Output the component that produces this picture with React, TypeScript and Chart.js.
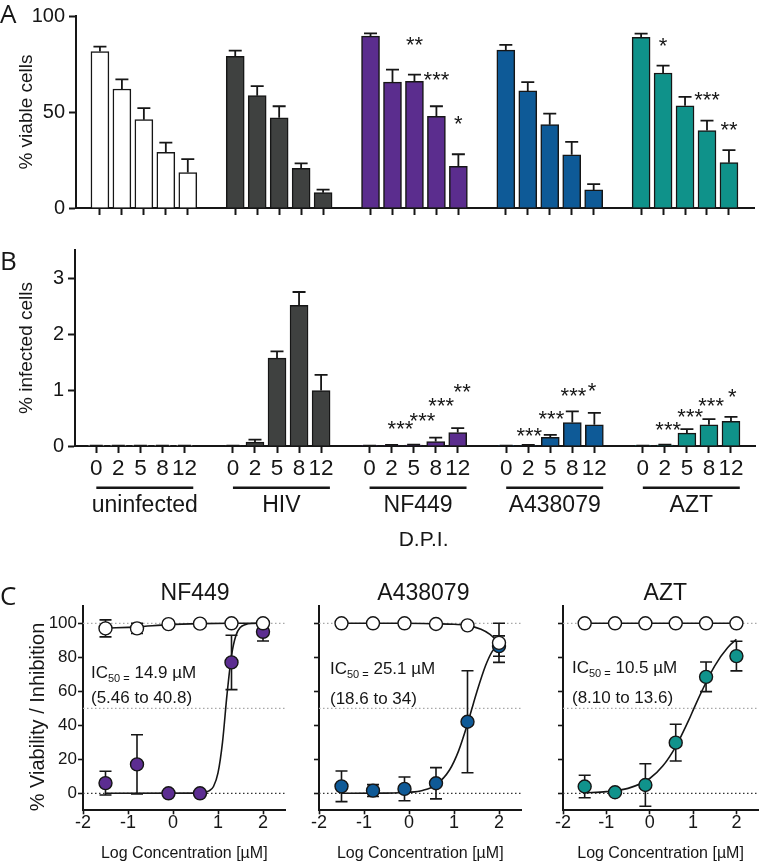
import React, { useEffect, useRef } from 'react';
import { Chart, registerables } from 'chart.js';

Chart.register(...registerables);

const FONT = '"Liberation Sans", Arial, Helvetica, sans-serif';
const LETTER_FONT = '"Open Sans", "DejaVu Sans", sans-serif';
const INK = '#161616';

// ---------------- Panel A / B data ----------------
const dpiLabels = ['0', '2', '5', '8', '12'];
const groupNames = ['uninfected', 'HIV', 'NF449', 'A438079', 'AZT'];
const groupColors = ['#ffffff', '#3f4140', '#5b2d8e', '#0e5a97', '#0f928a'];

// % viable cells (mean and SEM)
const viableUninfected = [81.5, 62, 46, 29, 18.5];
const viableUninfectedErr = [2.5, 5, 6, 5, 7];
const viableHIV = [79, 58.5, 47, 20.7, 8];
const viableHIVErr = [3, 5, 6, 2.5, 1.6];
const viableNF449 = [89.5, 65.6, 66, 47.7, 21.7];
const viableNF449Err = [1.5, 6.5, 3.5, 5.3, 6.3];
const viableA438079 = [82.2, 61, 43.4, 27.7, 9.4];
const viableA438079Err = [2.8, 4.6, 5.8, 6.7, 3];
const viableAZT = [88.9, 70.3, 53.2, 40.3, 23.6];
const viableAZTErr = [1.9, 3.9, 4.7, 5.2, 6.5];

// % infected cells (mean and SEM)
const infectedUninfected = [0.004, 0.004, 0.004, 0.004, 0.004];
const infectedUninfectedErr = [0.003, 0.003, 0.003, 0.003, 0.003];
const infectedHIV = [0.004, 0.07, 1.57, 2.51, 0.99];
const infectedHIVErr = [0.002, 0.045, 0.12, 0.24, 0.28];
const infectedNF449 = [0.003, 0.01, 0.015, 0.08, 0.24];
const infectedNF449Err = [0.002, 0.01, 0.01, 0.07, 0.08];
const infectedA438079 = [0.003, 0.01, 0.155, 0.42, 0.38];
const infectedA438079Err = [0.002, 0.008, 0.045, 0.2, 0.21];
const infectedAZT = [0.003, 0.015, 0.23, 0.38, 0.44];
const infectedAZTErr = [0.002, 0.01, 0.07, 0.1, 0.08];

type Star = { group: number; bar: number; y: number; text: string };

const starsA: Star[] = [
  { group: 2, bar: 2, y: 87.7, text: '**' },
  { group: 2, bar: 3, y: 69.7, text: '***' },
  { group: 2, bar: 4, y: 46.7, text: '*' },
  { group: 4, bar: 1, y: 87.2, text: '*' },
  { group: 4, bar: 3, y: 59, text: '***' },
  { group: 4, bar: 4, y: 43.6, text: '**' },
];

const starsB: Star[] = [
  { group: 2, bar: 1.4, y: 0.405, text: '***' },
  { group: 2, bar: 2.4, y: 0.55, text: '***' },
  { group: 2, bar: 3.25, y: 0.82, text: '***' },
  { group: 2, bar: 4.2, y: 1.06, text: '**' },
  { group: 3, bar: 1.05, y: 0.27, text: '***' },
  { group: 3, bar: 2.05, y: 0.59, text: '***' },
  { group: 3, bar: 3.05, y: 1.0, text: '***' },
  { group: 3, bar: 3.9, y: 1.09, text: '*' },
  { group: 4, bar: 1.15, y: 0.39, text: '***' },
  { group: 4, bar: 2.15, y: 0.61, text: '***' },
  { group: 4, bar: 3.1, y: 0.82, text: '***' },
  { group: 4, bar: 4.06, y: 0.97, text: '*' },
];

const yTicksA = [0, 50, 100];
const yTicksB = [0, 1, 2, 3];

// ---------------- Panel C data ----------------
const logConc = [-1.5, -0.8, -0.1, 0.6, 1.3, 2.0];
const xTicksC = [-2, -1, 0, 1, 2];
const yTicksC = [0, 20, 40, 60, 80, 100];

const nf449Viability = [97, 97, 99.5, 99.8, 100, 100];
const nf449ViabilityErr = [5, 3, 0, 0, 0, 0];
const nf449Inhibition = [6, 17, 0, 0, 77, 95];
const nf449InhibitionErr = [7, 17.4, 0, 0, 16, 5.4];
const nf449FitX = [-1.5, 0.6, 0.8, 0.9, 1.0, 1.1, 1.2, 1.3, 1.4, 1.5, 1.6, 1.75, 2.0];
const nf449FitY = [0, 0.1, 1.4, 4, 12, 30, 58, 81, 93, 97.7, 99.2, 99.9, 100];
const nf449ViabFitX = [-1.5, -0.8, -0.1, 0.6, 1.3, 2.0];
const nf449ViabFitY = [97.2, 97.9, 99.2, 99.8, 100, 100];

const a438Viability = [100, 100, 100, 99.6, 98.8, 88.5];
const a438ViabilityErr = [0, 0, 0, 0, 0, 11.5];
const a438Inhibition = [4.1, 1.6, 2.6, 5.9, 42.1, 86.6];
const a438InhibitionErr = [9, 3.5, 7, 9.2, 30, 6];
const a438FitX = [-1.5, -0.5, 0, 0.3, 0.6, 0.9, 1.1, 1.3, 1.4, 1.5, 1.7, 1.85, 2.0];
const a438FitY = [0, 0.1, 0.6, 1.7, 5, 13.7, 24.8, 40.8, 50, 59, 75, 83.5, 88];
const a438ViabFitX = [-1.5, -0.8, -0.1, 0.6, 1.0, 1.3, 1.6, 1.8, 2.0];
const a438ViabFitY = [100, 100, 100, 99.7, 99.4, 98.8, 96.5, 93.5, 88.5];

const aztViability = [100, 100, 100, 100, 100, 100];
const aztViabilityErr = [0, 0, 0, 0, 0, 0];
const aztInhibition = [4, 0.6, 4.9, 29.8, 68.5, 80.7];
const aztInhibitionErr = [6.6, 0, 12.5, 10.8, 8.7, 8.7];
const aztFitX = [-1.5, -1, -0.5, 0, 0.3, 0.6, 0.9, 1.02, 1.2, 1.5, 1.8, 2.0];
const aztFitY = [0.3, 1, 2.9, 8.7, 16, 27.5, 43, 50, 60, 75, 85.8, 90.5];
const aztViabFitX = [-1.5, 2.0];
const aztViabFitY = [100, 100];

const doseColors = ['#5c2d91', '#0f5a97', '#10938c'];

// ---------------- plugins ----------------
const barErrorPlugin = {
  id: 'barErrors',
  afterDatasetsDraw(chart: any) {
    const { ctx } = chart;
    const xs = chart.scales.x;
    const ys = chart.scales.y;
    ctx.save();
    ctx.strokeStyle = INK;
    ctx.lineWidth = 1.8;
    chart.data.datasets.forEach((ds: any) => {
      const errs: number[] = ds.errors || [];
      ds.data.forEach((pt: any, i: number) => {
        const e = errs[i] || 0;
        const px = xs.getPixelForValue(pt.x);
        const y0 = ys.getPixelForValue(pt.y);
        const y1 = ys.getPixelForValue(pt.y + e);
        ctx.beginPath();
        ctx.moveTo(px, y0);
        ctx.lineTo(px, y1);
        ctx.moveTo(px - 6.5, y1);
        ctx.lineTo(px + 6.5, y1);
        ctx.stroke();
      });
    });
    ctx.restore();
  },
};

type BarPanelProps = {
  top: number;
  height: number;
  areaTop: number;
  areaLeft: number;
  areaRight: number;
  xAxisH: number;
  groupStep: number;
  xMin: number;
  xMax: number;
  yMax: number;
  yTicks: number[];
  yTitle: string;
  series: number[][];
  errors: number[][];
  stars: Star[];
  showDpi: boolean;
  letter: string;
  letterBaseline: number;
};

function BarPanel(p: BarPanelProps) {
  const ref = useRef<HTMLCanvasElement>(null);
  useEffect(() => {
    const canvas = ref.current!;
    const positions: number[] = [];
    p.series.forEach((_, g) => dpiLabels.forEach((__, i) => positions.push(g * p.groupStep + i)));

    const decor = {
      id: 'decor',
      afterDraw(chart: any) {
        const { ctx } = chart;
        const xs = chart.scales.x;
        const ys = chart.scales.y;
        ctx.save();
        // panel letter
        ctx.fillStyle = INK;
        ctx.font = `26px ${LETTER_FONT}`;
        ctx.textAlign = 'left';
        ctx.textBaseline = 'alphabetic';
        ctx.fillText(p.letter, 0, p.letterBaseline);
        // stars
        ctx.font = `22px ${FONT}`;
        ctx.textAlign = 'center';
        p.stars.forEach((s) => {
          const px = xs.getPixelForValue(s.group * p.groupStep + s.bar);
          const py = ys.getPixelForValue(s.y) + 0.57 * 22;
          ctx.fillText(s.text, px, py);
        });
        if (p.showDpi) {
          const lineY = 487.7 - p.top;
          const labelY = 505.7 - p.top;
          ctx.strokeStyle = INK;
          ctx.lineWidth = 2.5;
          ctx.font = `23px ${FONT}`;
          ctx.textBaseline = 'middle';
          groupNames.forEach((name, g) => {
            const x0 = xs.getPixelForValue(g * p.groupStep);
            const x1 = xs.getPixelForValue(g * p.groupStep + 4.4);
            ctx.beginPath();
            ctx.moveTo(x0, lineY);
            ctx.lineTo(x1, lineY);
            ctx.stroke();
            ctx.fillText(name, (x0 + x1) / 2, labelY);
          });
          const cx = xs.getPixelForValue(2 * p.groupStep + 2.45);
          ctx.font = `21px ${FONT}`;
          ctx.fillText('D.P.I.', cx, 540 - p.top);
        }
        ctx.restore();
      },
    };

    const chart = new Chart(canvas, {
      type: 'bar',
      data: {
        datasets: p.series.map((vals, g) => ({
          label: groupNames[g],
          data: vals.map((v, i) => ({ x: g * p.groupStep + i, y: v })),
          backgroundColor: groupColors[g],
          borderColor: INK,
          borderWidth: 1.5,
          barThickness: 18,
          grouped: false,
          errors: p.errors[g],
        })) as any,
      },
      options: {
        responsive: false,
        animation: false,
        events: [],
        layout: {
          padding: { left: 0, top: p.areaTop, right: 766 - p.areaRight, bottom: 0 },
        },
        plugins: { legend: { display: false }, tooltip: { enabled: false }, title: { display: false } },
        scales: {
          x: {
            type: 'linear',
            min: p.xMin,
            max: p.xMax,
            offset: false,
            afterBuildTicks: (s: any) => {
              s.ticks = positions.map((v) => ({ value: v }));
            },
            afterFit: (s: any) => {
              s.height = p.xAxisH;
            },
            grid: {
              drawOnChartArea: false,
              drawTicks: true,
              tickLength: 7,
              tickWidth: 2,
              tickColor: INK,
              offset: false,
            },
            border: { display: true, color: INK, width: 2 },
            ticks: {
              autoSkip: false,
              maxRotation: 0,
              minRotation: 0,
              padding: 2,
              color: INK,
              font: { family: FONT, size: 22.5 },
              callback: (_v: any, i: number) => (p.showDpi ? dpiLabels[i % 5] : ''),
            },
          } as any,
          y: {
            type: 'linear',
            min: 0,
            max: p.yMax,
            afterBuildTicks: (s: any) => {
              s.ticks = p.yTicks.map((v) => ({ value: v }));
            },
            afterFit: (s: any) => {
              s.width = p.areaLeft;
            },
            grid: { drawOnChartArea: false, drawTicks: true, tickLength: 7, tickWidth: 2, tickColor: INK },
            border: { display: true, color: INK, width: 2 },
            ticks: {
              padding: 4,
              color: INK,
              font: { family: FONT, size: 20 },
              callback: (v: any) => String(v),
            },
            title: {
              display: true,
              text: p.yTitle,
              color: INK,
              font: { family: FONT, size: 19 },
              padding: { top: 15, bottom: 0 },
            },
          } as any,
        },
      },
      plugins: [barErrorPlugin, decor],
    });
    return () => chart.destroy();
  }, []);
  return (
    <canvas
      ref={ref}
      width={766}
      height={p.height}
      style={{ position: 'absolute', left: 0, top: p.top, width: 766, height: p.height }}
    />
  );
}

type DoseProps = {
  left: number;
  width: number;
  yAxisW: number;
  padRight: number;
  name: string;
  titleX: number;
  color: string;
  viab: number[];
  viabErr: number[];
  inh: number[];
  inhErr: number[];
  fitX: number[];
  fitY: number[];
  viabFitX: number[];
  viabFitY: number[];
  ic50: string;
  ci: string;
  textDx: number;
  line1: number;
  line2: number;
  showYLabels: boolean;
  letter?: string;
};

const C_TOP = 560;
const C_HEIGHT = 303;

function DosePanel(p: DoseProps) {
  const ref = useRef<HTMLCanvasElement>(null);
  useEffect(() => {
    const canvas = ref.current!;

    const drawErrors = (chart: any) => {
      const { ctx } = chart;
      const xs = chart.scales.x;
      const ys = chart.scales.y;
      ctx.save();
      ctx.strokeStyle = INK;
      ctx.lineWidth = 1.6;
      [0, 1].forEach((di) => {
        const ds: any = chart.data.datasets[di];
        ds.data.forEach((pt: any, i: number) => {
          const e = ds.errors[i] || 0;
          if (!e) return;
          const px = xs.getPixelForValue(pt.x);
          const yt = ys.getPixelForValue(pt.y + e);
          const yb = ys.getPixelForValue(pt.y - e);
          ctx.beginPath();
          ctx.moveTo(px, yt);
          ctx.lineTo(px, yb);
          ctx.moveTo(px - 6, yt);
          ctx.lineTo(px + 6, yt);
          ctx.moveTo(px - 6, yb);
          ctx.lineTo(px + 6, yb);
          ctx.stroke();
        });
      });
      ctx.restore();
    };

    const decor = {
      id: 'doseDecor',
      beforeDatasetsDraw(chart: any) {
        const { ctx, chartArea } = chart;
        const ys = chart.scales.y;
        ctx.save();
        ctx.lineWidth = 1.2;
        ctx.setLineDash([1.5, 2.5]);
        [100, 50, 0].forEach((v) => {
          const y = ys.getPixelForValue(v);
          ctx.strokeStyle = v === 0 ? '#333333' : '#a8a8a8';
          ctx.beginPath();
          ctx.moveTo(chartArea.left, y);
          ctx.lineTo(chartArea.right, y);
          ctx.stroke();
        });
        ctx.restore();
      },
      beforeDatasetDraw(chart: any, args: any) {
        if (args.index === 1) drawErrors(chart);
      },
      afterDraw(chart: any) {
        const { ctx, chartArea } = chart;
        const xs = chart.scales.x;
        ctx.save();
        ctx.fillStyle = INK;
        ctx.textBaseline = 'alphabetic';
        // title
        ctx.font = `23px ${FONT}`;
        ctx.textAlign = 'center';
        ctx.fillText(p.name, xs.getPixelForValue(p.titleX), 600 - C_TOP);
        // IC50 text
        ctx.textAlign = 'left';
        let x = chartArea.left + p.textDx;
        const b1 = p.line1 - C_TOP;
        ctx.font = `17px ${FONT}`;
        ctx.fillText('IC', x, b1);
        x += ctx.measureText('IC').width;
        ctx.font = `11px ${FONT}`;
        ctx.fillText('50 =', x, b1 + 4);
        x += ctx.measureText('50 =').width;
        ctx.font = `17px ${FONT}`;
        ctx.fillText(' ' + p.ic50, x, b1);
        ctx.fillText(p.ci, chartArea.left + p.textDx, p.line2 - C_TOP);
        if (p.letter) {
          ctx.font = `26px ${LETTER_FONT}`;
          ctx.fillText(p.letter, 0, 605 - C_TOP);
          ctx.save();
          ctx.translate(38, 717 - C_TOP);
          ctx.rotate(-Math.PI / 2);
          ctx.textAlign = 'center';
          ctx.textBaseline = 'middle';
          ctx.font = `20px ${FONT}`;
          ctx.fillText('% Viability / Inhibition', 0, 0);
          ctx.restore();
        }
        ctx.restore();
      },
    };

    const pointStyle = (bg: string) => ({
      showLine: false,
      pointRadius: 6.5,
      pointHoverRadius: 6.5,
      pointBackgroundColor: bg,
      pointBorderColor: INK,
      pointBorderWidth: 1.4,
      borderColor: INK,
      backgroundColor: bg,
    });
    const lineStyle = {
      showLine: true,
      pointRadius: 0,
      pointHoverRadius: 0,
      borderColor: INK,
      borderWidth: 1.6,
      fill: false,
      cubicInterpolationMode: 'monotone',
    };

    const chart = new Chart(canvas, {
      type: 'scatter',
      data: {
        datasets: [
          {
            label: 'viability',
            data: logConc.map((x, i) => ({ x, y: p.viab[i] })),
            errors: p.viabErr,
            order: 0,
            ...pointStyle('#ffffff'),
          },
          {
            label: 'inhibition',
            data: logConc.map((x, i) => ({ x, y: p.inh[i] })),
            errors: p.inhErr,
            order: 1,
            ...pointStyle(p.color),
          },
          {
            label: 'viability fit',
            data: p.viabFitX.map((x, i) => ({ x, y: p.viabFitY[i] })),
            order: 2,
            ...lineStyle,
          },
          {
            label: 'inhibition fit',
            data: p.fitX.map((x, i) => ({ x, y: p.fitY[i] })),
            order: 3,
            ...lineStyle,
          },
        ] as any,
      },
      options: {
        responsive: false,
        animation: false,
        events: [],
        layout: { padding: { left: 0, top: 46.3, right: p.padRight, bottom: 0 } },
        plugins: { legend: { display: false }, tooltip: { enabled: false }, title: { display: false } },
        scales: {
          x: {
            type: 'linear',
            min: -2,
            max: 2.5,
            afterBuildTicks: (s: any) => {
              s.ticks = xTicksC.map((v) => ({ value: v }));
            },
            afterFit: (s: any) => {
              s.height = C_HEIGHT - 250.3;
            },
            grid: { drawOnChartArea: false, drawTicks: true, tickLength: 4, tickWidth: 1.6, tickColor: INK },
            border: { display: true, color: INK, width: 2 },
            ticks: {
              autoSkip: false,
              maxRotation: 0,
              minRotation: 0,
              padding: 0,
              color: INK,
              font: { family: FONT, size: 18, lineHeight: 1 },
              callback: (v: any) => String(v),
            },
            title: {
              display: true,
              text: 'Log Concentration [µM]',
              color: INK,
              font: { family: FONT, size: 16, lineHeight: 1.2 },
              padding: { top: 0, bottom: 0 },
            },
          } as any,
          y: {
            type: 'linear',
            min: -10,
            max: 110,
            afterBuildTicks: (s: any) => {
              s.ticks = yTicksC.map((v) => ({ value: v }));
            },
            afterFit: (s: any) => {
              s.width = p.yAxisW;
            },
            grid: { drawOnChartArea: false, drawTicks: true, tickLength: 5, tickWidth: 1.6, tickColor: INK },
            border: { display: true, color: INK, width: 2 },
            ticks: {
              padding: 1,
              color: INK,
              font: { family: FONT, size: 17 },
              callback: (v: any) => (p.showYLabels ? String(v) : ''),
            },
          } as any,
        },
      },
      plugins: [decor],
    });
    return () => chart.destroy();
  }, []);
  return (
    <canvas
      ref={ref}
      width={p.width}
      height={C_HEIGHT}
      style={{ position: 'absolute', left: p.left, top: C_TOP, width: p.width, height: C_HEIGHT }}
    />
  );
}

export default function App() {
  return (
    <div
      style={{
        position: 'absolute',
        left: 0,
        top: 0,
        width: 766,
        height: 863,
        background: '#ffffff',
        overflow: 'hidden',
      }}
    >
      <BarPanel
        top={0}
        height={225}
        areaTop={13}
        areaLeft={76}
        areaRight={754}
        xAxisH={17}
        groupStep={6.16}
        xMin={-1.09}
        xMax={29.78}
        yMax={100}
        yTicks={yTicksA}
        yTitle="% viable cells"
        series={[viableUninfected, viableHIV, viableNF449, viableA438079, viableAZT]}
        errors={[viableUninfectedErr, viableHIVErr, viableNF449Err, viableA438079Err, viableAZTErr]}
        stars={starsA}
        showDpi={false}
        letter="A"
        letterBaseline={23}
      />
      <BarPanel
        top={225}
        height={335}
        areaTop={25}
        areaLeft={75}
        areaRight={755}
        xAxisH={114}
        groupStep={6.2}
        xMin={-0.967}
        xMax={29.89}
        yMax={3.5}
        yTicks={yTicksB}
        yTitle="% infected cells"
        series={[infectedUninfected, infectedHIV, infectedNF449, infectedA438079, infectedAZT]}
        errors={[infectedUninfectedErr, infectedHIVErr, infectedNF449Err, infectedA438079Err, infectedAZTErr]}
        stars={starsB}
        showDpi={true}
        letter="B"
        letterBaseline={45}
      />
      <DosePanel
        left={0}
        width={300}
        yAxisW={83}
        padRight={14.5}
        name="NF449"
        titleX={0.49}
        color={doseColors[0]}
        viab={nf449Viability}
        viabErr={nf449ViabilityErr}
        inh={nf449Inhibition}
        inhErr={nf449InhibitionErr}
        fitX={nf449FitX}
        fitY={nf449FitY}
        viabFitX={nf449ViabFitX}
        viabFitY={nf449ViabFitY}
        ic50="14.9 µM"
        ci="(5.46 to 40.8)"
        textDx={8}
        line1={678}
        line2={703}
        showYLabels={true}
        letter="C"
      />
      <DosePanel
        left={250}
        width={290}
        yAxisW={69}
        padRight={18.5}
        name="A438079"
        titleX={0.32}
        color={doseColors[1]}
        viab={a438Viability}
        viabErr={a438ViabilityErr}
        inh={a438Inhibition}
        inhErr={a438InhibitionErr}
        fitX={a438FitX}
        fitY={a438FitY}
        viabFitX={a438ViabFitX}
        viabFitY={a438ViabFitY}
        ic50="25.1 µM"
        ci="(18.6 to 34)"
        textDx={11}
        line1={674}
        line2={704}
        showYLabels={false}
      />
      <DosePanel
        left={500}
        width={266}
        yAxisW={63}
        padRight={0.5}
        name="AZT"
        titleX={0.36}
        color={doseColors[2]}
        viab={aztViability}
        viabErr={aztViabilityErr}
        inh={aztInhibition}
        inhErr={aztInhibitionErr}
        fitX={aztFitX}
        fitY={aztFitY}
        viabFitX={aztViabFitX}
        viabFitY={aztViabFitY}
        ic50="10.5 µM"
        ci="(8.10 to 13.6)"
        textDx={9}
        line1={673}
        line2={703}
        showYLabels={false}
      />
    </div>
  );
}
